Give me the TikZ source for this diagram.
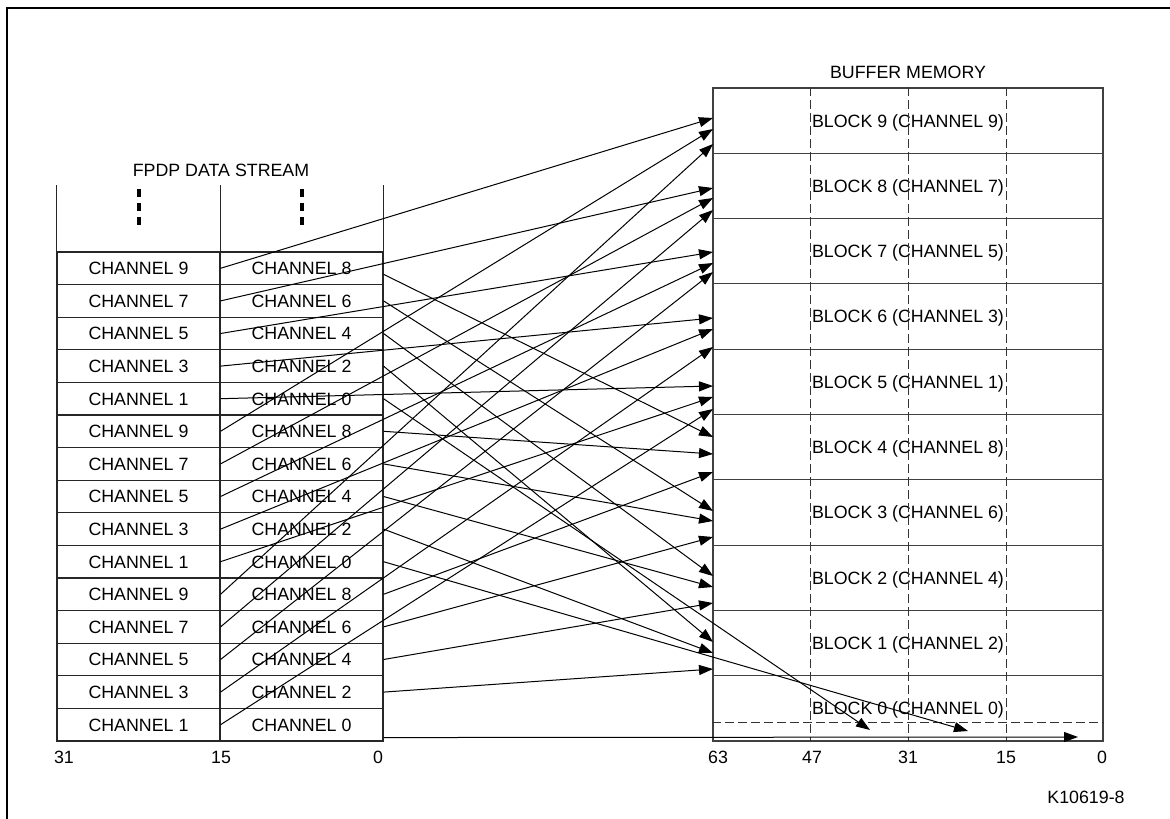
\documentclass[tikz,border=0pt]{standalone}
\usepackage{fontspec}
\setmainfont{Liberation Sans}
\usetikzlibrary{arrows.meta,calc}

\begin{document}
\begin{tikzpicture}[x=1pt,y=-1pt,
  every node/.style={font=\fontsize{17.8}{20}\selectfont},
  cellbox/.style={draw=black!85, line width=1.1pt, minimum width=163pt,
    minimum height=32.6pt, inner sep=0pt, text height=12.8pt, text depth=0pt},
  blockbox/.style={draw=black!75, line width=1.1pt, minimum width=390pt,
    minimum height=65.3pt, inner sep=0pt, text height=12.8pt, text depth=0pt},
  gridline/.style={draw=black!85, line width=1.1pt},
  dashline/.style={draw=black!80, line width=1pt, dash pattern=on 9pt off 4pt},
  feed/.style={draw=black, line width=1pt, -{Triangle[length=14pt,width=10pt]}},
  bitlabel/.style={inner sep=0pt, text height=12.8pt, text depth=0pt},
]
\useasboundingbox (0,0) rectangle (1170,819);

% outer frame (left and top edges)
\draw[line width=2.5pt] (7,825) -- (7,8) -- (1175,8);

% ---------------- FPDP data stream (two 16-bit halves per word) ----------------
\node (fpdp) at (221,170) {FPDP DATA STREAM};
\foreach \i/\oc/\ec in {0/9/8,1/7/6,2/5/4,3/3/2,4/1/0,
                        5/9/8,6/7/6,7/5/4,8/3/2,9/1/0,
                        10/9/8,11/7/6,12/5/4,13/3/2,14/1/0} {
  \node[cellbox] (o\i) at (138.5,{268.3+32.6*\i}) {CHANNEL \oc};
  \node[cellbox] (e\i) at (301.5,{268.3+32.6*\i}) {CHANNEL \ec};
}
% open top of the stream with continuation marks
\foreach \n in {o0.north west, o0.north east, e0.north east}
  \draw[gridline] (\n) -- ++(0,-66);
\foreach \c in {o0,e0}
  \foreach \k in {0,1,2}
    \fill ($(\c.north)+(-2,{-62.7+14.2*\k})$) rectangle ++(4,8);

% bit positions of the stream word
\node[bitlabel] (l31) at (64,757) {31};
\node[bitlabel] (l15) at (221,757) {15};
\node[bitlabel] (l0)  at (378,757) {0};

% ---------------- buffer memory ----------------
\node (bufmem) at (908,72) {BUFFER MEMORY};
\foreach \k/\c in {9/9,8/7,7/5,6/3,5/1,4/8,3/6,2/4,1/2,0/0}
  \node[blockbox] (b\k) at (908,{88+65.3*(9-\k)+32.65}) {BLOCK \k{} (CHANNEL \c)};

% 16-bit lanes of each 64-bit block
\foreach \f in {0.251,0.5,0.751}
  \draw[dashline] ($(b9.north west)!\f!(b9.north east)$) -- ($(b0.south west)!\f!(b0.south east)$);
\draw[dashline] ($(b0.south west)+(0,-19)$) -- ($(b0.south east)+(0,-19)$);

\node[bitlabel] (r63) at (718,757) {63};
\node[bitlabel] (r47) at (812,757) {47};
\node[bitlabel] (r31) at (908,757) {31};
\node[bitlabel] (r15) at (1006,757) {15};
\node[bitlabel] (r0)  at (1102,757) {0};

\node (figid) at (1086,797) {K10619-8};

% ---------------- sample routing ----------------
% landing points on each block (one per sample of the channel)
\foreach \k/\ya/\yb/\yc in {9/118/129/144, 8/188/198/210, 7/252/263/272,
                            6/318/329/347, 5/386/397/409, 4/437/454/472,
                            3/511/521/537, 2/576/587/603, 1/642/653/669} {
  \coordinate (t\k-0) at (713,\ya);
  \coordinate (t\k-1) at (713,\yb);
  \coordinate (t\k-2) at (713,\yc);
}
\coordinate (t0-0) at (870,730);
\coordinate (t0-1) at (968,731);
\coordinate (t0-2) at (1078,737);

% start points of the lower halves
\foreach \i in {0,...,14}
  \coordinate (se\i) at (e\i.east);
\coordinate (se0) at ($(e0.east)+(0,6)$);
\coordinate (se14) at ($(e14.south east)+(0,-4)$);

\foreach \i in {0,...,14} {
  \pgfmathtruncatemacro\r{mod(\i,5)}
  \pgfmathtruncatemacro\s{floor(\i/5)}
  \pgfmathtruncatemacro\ob{9-\r}
  \pgfmathtruncatemacro\eb{4-\r}
  \draw[feed] (o\i.east) -- (t\ob-\s);
  \draw[feed] (se\i) -- (t\eb-\s);
}
\end{tikzpicture}
\end{document}
